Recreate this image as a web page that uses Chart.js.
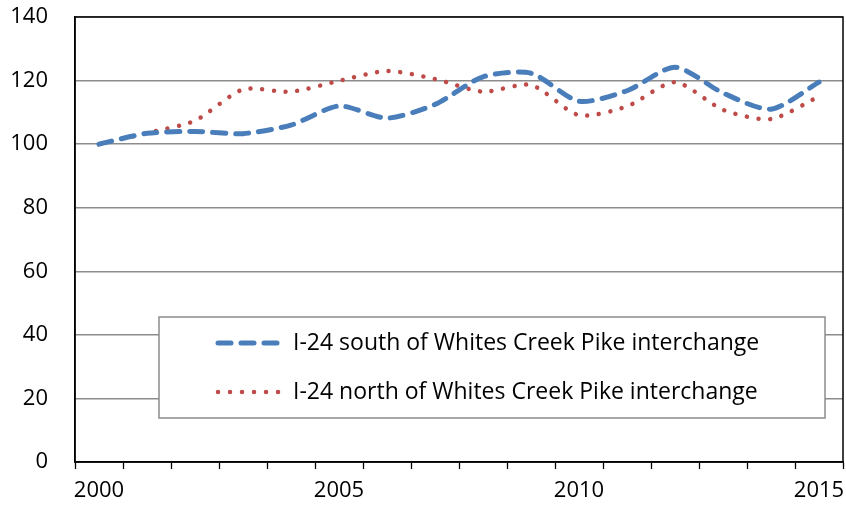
<!DOCTYPE html>
<html>
<head>
<meta charset="utf-8">
<script src="https://cdn.jsdelivr.net/npm/chart.js@4"></script>
<style>
  html, body { margin: 0; padding: 0; background: #fff; }
  #wrap { width: 846px; height: 508px; }
</style>
</head>
<body>
<div id="wrap"><canvas id="grafica" width="846" height="508"></canvas></div>
<script>
var years = ['2000', '2001', '2002', '2003', '2004', '2005', '2006', '2007',
             '2008', '2009', '2010', '2011', '2012', '2013', '2014', '2015'];
var south = [100, 103.4, 104, 103.3, 106, 112, 108.2, 112.5, 121.2, 122.3, 113.5, 116.8, 124.2, 116.1, 111, 119.5];
var north = [100, 103.5, 107.4, 117.2, 116.5, 119.9, 123, 120.5, 116.5, 118.6, 109.1, 111.9, 119.5, 110.8, 107.9, 115];
var seriesNames = ['I-24 south of Whites Creek Pike interchange', 'I-24 north of Whites Creek Pike interchange'];
var yTicks = [0, 20, 40, 60, 80, 100, 120, 140];

var FONT = '"Open Sans", Lato, sans-serif';
var BLUE = '#4A7EBB';
var RED = '#BE4B48';

// marco negro del area de trazado
var marco = {
    id: 'marco',
    beforeDatasetsDraw: function (chart) {
        var a = chart.chartArea, c = chart.ctx;
        c.save();
        c.strokeStyle = '#000';
        c.lineWidth = 1.5;
        c.strokeRect(a.left, a.top, a.right - a.left, a.bottom - a.top);
        c.restore();
    }
};

// leyenda dentro del grafico
var leyenda = {
    id: 'leyenda',
    afterDatasetsDraw: function (chart) {
        var c = chart.ctx;
        var bx = 159, by = 317, bw = 666, bh = 101;
        c.save();
        c.fillStyle = '#fff';
        c.fillRect(bx, by, bw, bh);
        c.strokeStyle = '#8c8c8c';
        c.lineWidth = 1.5;
        c.strokeRect(bx, by, bw, bh);
        chart.data.datasets.forEach(function (ds, i) {
            var y = by + 26 + i * 49;
            c.strokeStyle = ds.borderColor;
            c.lineWidth = ds.borderWidth;
            c.lineCap = 'round';
            c.setLineDash(i === 0 ? [13, 10] : [0.01, 12]);
            c.beginPath();
            c.moveTo(218, y);
            c.lineTo(280, y);
            c.stroke();
            c.setLineDash([]);
            c.fillStyle = '#000';
            c.font = '23px ' + FONT;
            c.textBaseline = 'middle';
            c.fillText(ds.label, 293, y);
        });
        c.restore();
    }
};

var ctx = document.getElementById('grafica');
var grafica = new Chart(ctx, {
    type: 'line',
    data: {
        labels: years,
        datasets: [{
            label: seriesNames[0],
            data: south,
            borderColor: BLUE,
            borderWidth: 5,
            borderDash: [13, 10],
            borderCapStyle: 'round',
            pointRadius: 0,
            tension: 0.25,
            fill: false
        }, {
            label: seriesNames[1],
            data: north,
            borderColor: RED,
            borderWidth: 4.5,
            borderDash: [0.01, 11.7],
            borderCapStyle: 'round',
            pointRadius: 0,
            tension: 0.25,
            fill: false
        }]
    },
    options: {
        responsive: false,
        animation: false,
        layout: { padding: { top: 17, right: 3, left: 0, bottom: 0 } },
        plugins: {
            legend: { display: false },
            tooltip: { enabled: false }
        },
        scales: {
            x: {
                offset: true,
                afterFit: function (s) {
                    s.height = 46;
                    s.paddingLeft = 0;
                    s.paddingRight = 0;
                },
                grid: {
                    offset: true,
                    drawOnChartArea: false,
                    color: '#000',
                    tickLength: 7,
                    tickWidth: 1.3
                },
                border: { color: '#000', width: 1.5 },
                ticks: {
                    autoSkip: false,
                    maxRotation: 0,
                    padding: 9,
                    color: '#000',
                    font: { family: FONT, size: 22 },
                    callback: function (v, i) { return i % 5 === 0 ? years[i] : ''; }
                }
            },
            y: {
                min: 0,
                max: 140,
                afterFit: function (s) {
                    s.width = 75;
                    s.paddingTop = 0;
                    s.paddingBottom = 0;
                },
                afterBuildTicks: function (s) {
                    s.ticks = yTicks.map(function (v) { return { value: v }; });
                },
                grid: {
                    color: '#8c8c8c',
                    lineWidth: 1.5,
                    drawTicks: false
                },
                border: { color: '#000', width: 1.5 },
                ticks: {
                    padding: 27,
                    color: '#000',
                    font: { family: FONT, size: 22 }
                }
            }
        }
    },
    plugins: [marco, leyenda]
});
</script>
</body>
</html>
